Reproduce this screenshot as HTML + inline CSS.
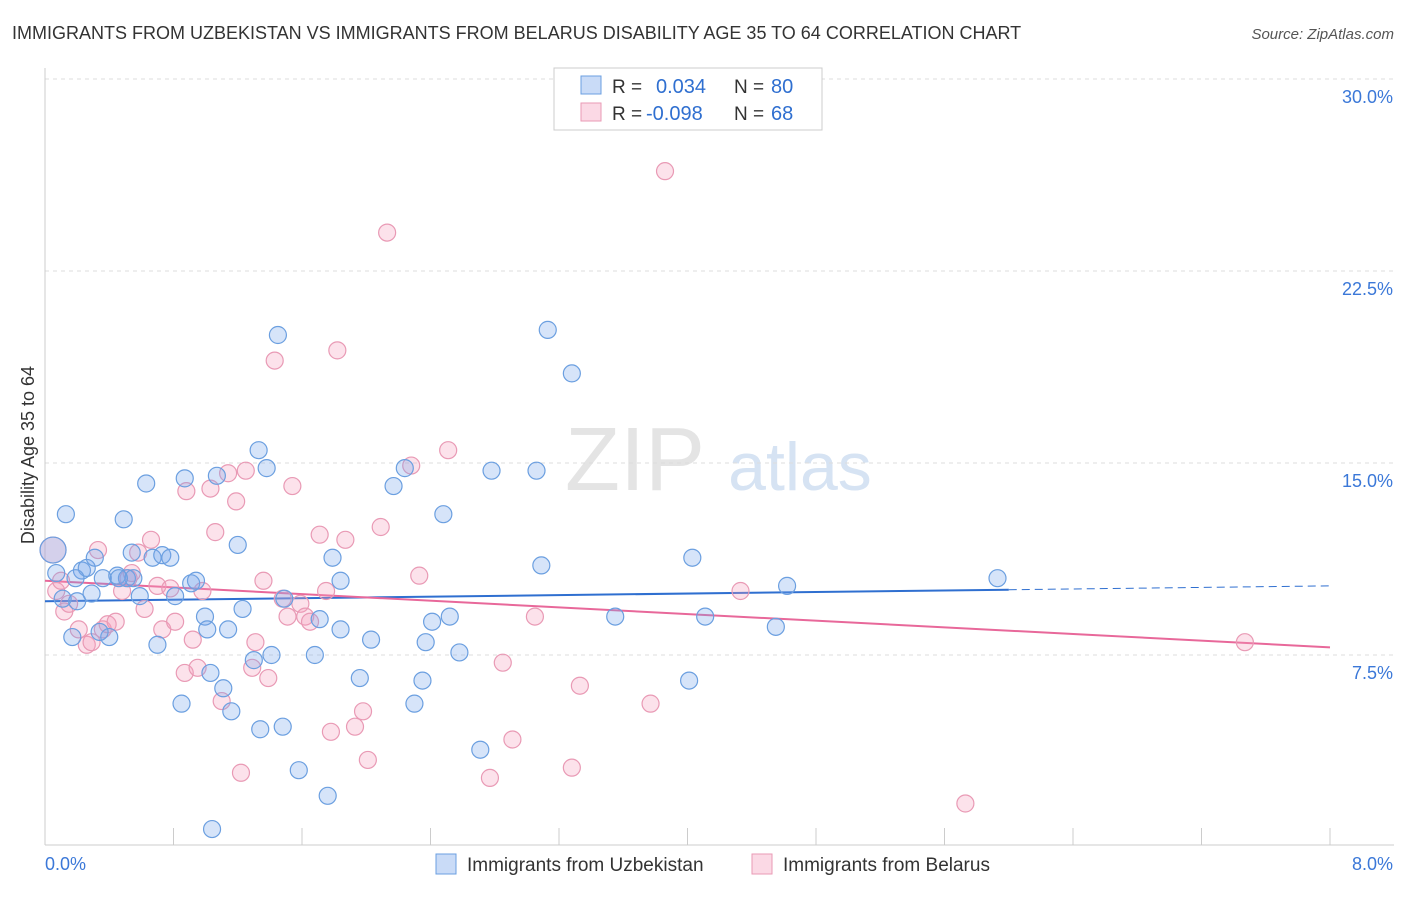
<!DOCTYPE html>
<html><head><meta charset="utf-8"><style>
body{margin:0;background:#fff;font-family:"Liberation Sans",sans-serif;}
svg text{font-family:"Liberation Sans",sans-serif;}
</style></head><body>
<svg id="chart" width="1406" height="892" xmlns="http://www.w3.org/2000/svg">
<text x="12" y="39" font-size="18" fill="#333">IMMIGRANTS FROM UZBEKISTAN VS IMMIGRANTS FROM BELARUS DISABILITY AGE 35 TO 64 CORRELATION CHART</text>
<text x="1394" y="39" font-size="15" fill="#555" text-anchor="end" font-style="italic">Source: ZipAtlas.com</text>
<g>
<text x="635" y="490" font-size="90" fill="#e4e4e4" font-family="Liberation Serif" text-anchor="middle">ZIP</text>
<text x="800" y="490" font-size="68" fill="#d6e3f3" text-anchor="middle">atlas</text>
</g>
<g id="grid"></g>
<g id="axes"></g>
<g id="lines"></g>
<g id="points"></g>
<g>
<rect x="554" y="68" width="268" height="62" fill="#fff" stroke="#ccc"/>
<rect x="581" y="76" width="20" height="18" fill="rgba(120,165,235,0.4)" stroke="#6b9fe0"/>
<rect x="581" y="103" width="20" height="18" fill="rgba(245,160,190,0.4)" stroke="#e99ab5"/>
<text x="612" y="93" font-size="19" fill="#333">R = </text><text x="656" y="93" font-size="20" fill="#2f6fd0">0.034</text>
<text x="734" y="93" font-size="19" fill="#333">N = </text><text x="771" y="93" font-size="20" fill="#2f6fd0">80</text>
<text x="612" y="120" font-size="19" fill="#333">R = </text><text x="646" y="120" font-size="20" fill="#2f6fd0">-0.098</text>
<text x="734" y="120" font-size="19" fill="#333">N = </text><text x="771" y="120" font-size="20" fill="#2f6fd0">68</text>
</g>
<g>
<rect x="436" y="854" width="20" height="20" fill="rgba(120,165,235,0.4)" stroke="#6b9fe0"/>
<text x="467" y="871" font-size="19" fill="#333">Immigrants from Uzbekistan</text>
<rect x="752" y="854" width="20" height="20" fill="rgba(245,160,190,0.4)" stroke="#e99ab5"/>
<text x="783" y="871" font-size="19" fill="#333">Immigrants from Belarus</text>
</g>
<text x="34" y="455" font-size="18" fill="#333" text-anchor="middle" transform="rotate(-90 34 455)">Disability Age 35 to 64</text>
</svg>
<script>
const yTicks=[7.5,15,22.5,30];
const yTickLabels=["7.5%","15.0%","22.5%","30.0%"];
const xTickLabels=["0.0%","8.0%"];
const blueX=[0.05,0.07,0.13,0.11,0.17,0.2,0.23,0.26,0.29,0.31,0.36,0.4,0.34,0.45,0.49,0.51,0.54,0.59,0.63,0.67,0.7,0.73,0.78,0.81,0.85,0.87,0.91,0.94,0.996,1.01,1.03,1.04,1.07,1.11,1.14,1.16,1.2,1.23,1.3,1.33,1.34,1.38,1.41,1.45,1.48,1.49,1.58,1.68,1.71,1.76,1.79,1.84,1.84,1.96,2.03,2.17,2.24,2.3,2.35,2.37,2.41,2.48,2.52,2.58,2.71,2.78,3.06,3.09,3.13,3.28,3.55,4.01,4.03,4.11,4.55,4.62,5.93,0.55,0.19,0.46];
const blueY=[11.6,10.7,13.0,9.7,8.2,9.6,10.8,10.9,9.9,11.3,10.5,8.2,8.4,10.6,12.8,10.5,11.5,9.8,14.2,11.3,7.9,11.4,11.3,9.8,5.6,14.4,10.3,10.4,9.0,8.5,6.8,0.7,14.5,6.2,8.5,5.3,11.8,9.3,7.3,15.5,4.6,14.8,7.5,20.0,4.7,9.7,3.0,7.5,8.9,2.0,11.3,10.4,8.5,6.6,8.1,14.1,14.8,5.6,6.5,8.0,8.8,13.0,9.0,7.6,3.8,14.7,14.7,11.0,20.2,18.5,9.0,6.5,11.3,9.0,8.6,10.2,10.5,10.5,10.5,10.5];
const pinkX=[0.05,0.07,0.1,0.12,0.15,0.21,0.26,0.29,0.33,0.36,0.39,0.44,0.48,0.52,0.54,0.58,0.62,0.66,0.7,0.73,0.78,0.81,0.87,0.88,0.92,0.95,0.98,1.03,1.06,1.1,1.14,1.19,1.22,1.25,1.29,1.31,1.36,1.39,1.43,1.48,1.51,1.54,1.59,1.62,1.65,1.71,1.75,1.78,1.82,1.87,1.93,1.98,2.01,2.09,2.13,2.28,2.33,2.51,2.77,2.85,2.91,3.05,3.28,3.33,3.77,3.86,4.33,5.73,7.47];
const pinkY=[11.6,10.0,10.4,9.2,9.5,8.5,7.9,8.0,11.6,8.5,8.7,8.8,10.0,10.5,10.7,11.5,9.3,12.0,10.2,8.5,10.1,8.8,6.8,13.9,8.1,7.0,10.0,14.0,12.3,5.7,14.6,13.5,2.9,14.7,7.0,8.0,10.4,6.6,19.0,9.7,9.0,14.1,9.5,9.0,8.8,12.2,10.0,4.5,19.4,12.0,4.7,5.3,3.4,12.5,24.0,14.9,10.6,15.5,2.7,7.2,4.2,9.0,3.1,6.3,5.6,26.4,10.0,1.7,8.0];
const blueTrend=[9.6,10.2], blueSolidEnd=6.0;
const pinkTrend=[10.4,7.8];
const NS="http://www.w3.org/2000/svg";
const X0=45,X1=1330,Y0=847,PPY=25.6;
function xs(v){return X0+(X1-X0)*v/8;}
function ys(v){return Y0-v*PPY;}
function mk(tag,attrs,parent){const e=document.createElementNS(NS,tag);for(const k in attrs)e.setAttribute(k,attrs[k]);document.getElementById(parent).appendChild(e);return e;}
yTicks.forEach((t,i)=>{
 const l=mk('line',{x1:X0,x2:1394,y1:ys(t),y2:ys(t),stroke:'#ddd','stroke-dasharray':'4,4'},'grid');
 
 
 const tx=mk('text',{x:1393,y:ys(t)+24,'font-size':18,fill:'#3b78d8','text-anchor':'end'},'axes');
 tx.textContent=yTickLabels[i];
 
 
});
const ax=mk('line',{x1:X0,x2:X0,y1:68,y2:845,stroke:'#ccc'},'axes');


const bx=mk('line',{x1:X0,x2:1394,y1:845,y2:845,stroke:'#ccc'},'axes');


for(let i=0;i<=10;i++){const t=mk('line',{x1:xs(i*0.8),x2:xs(i*0.8),y1:828,y2:845,stroke:'#ccc'},'axes');
 
 }
[[0,'start',45],[8,'end',1393]].forEach((a,i)=>{const t=mk('text',{x:a[2],y:870,'font-size':18,fill:'#3b78d8','text-anchor':a[1]},'axes');t.textContent=xTickLabels[i];
 
 });
function tv(tr,x){return tr[0]+(tr[1]-tr[0])*x/8;}
let l1=mk('line',{x1:xs(0),y1:ys(tv(blueTrend,0)),x2:xs(blueSolidEnd),y2:ys(tv(blueTrend,blueSolidEnd)),stroke:'#2f6fd0','stroke-width':2},'lines');


let l2=mk('line',{x1:xs(blueSolidEnd),y1:ys(tv(blueTrend,blueSolidEnd)),x2:xs(8),y2:ys(tv(blueTrend,8)),stroke:'#2f6fd0','stroke-width':1,'stroke-dasharray':'8,5'},'lines');


let l3=mk('line',{x1:xs(0),y1:ys(tv(pinkTrend,0)),x2:xs(8),y2:ys(tv(pinkTrend,8)),stroke:'#e8689a','stroke-width':2},'lines');


function pts(X,Y,fill,stroke,name){X.forEach((x,i)=>{const c=mk('circle',{cx:xs(x),cy:ys(Y[i]),r:i===0?13:8.5,fill:fill,stroke:stroke,'stroke-width':1.2},'points');
 
 });}
pts(pinkX,pinkY,'rgba(245,160,190,0.3)','#e99ab5','belarus-point');
pts(blueX,blueY,'rgba(120,165,235,0.3)','#6b9fe0','uzbekistan-point');
</script>
</body></html>
